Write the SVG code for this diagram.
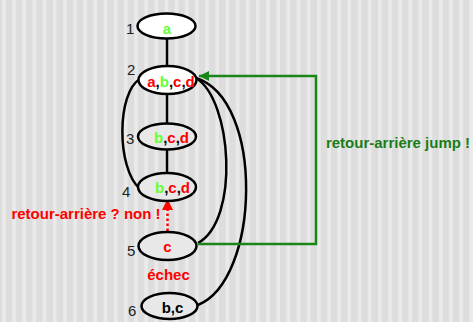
<svg xmlns="http://www.w3.org/2000/svg" width="473" height="322" viewBox="0 0 473 322">
  <defs>
    <pattern id="stripes" patternUnits="userSpaceOnUse" x="5.7" y="0" width="10.16" height="322">
      <rect x="0" y="0" width="10.16" height="322" fill="#eaeaea"/>
      <rect x="0" y="0" width="6.5" height="322" fill="#dddddd"/>
    </pattern>
    <marker id="arrow-green" viewBox="0 0 10 10" refX="10" refY="5" markerWidth="4" markerHeight="4" orient="auto" markerUnits="strokeWidth">
      <path d="M0,0 L10,5 L0,10 z" fill="#1a861a"/>
    </marker>
    <marker id="arrow-red" viewBox="0 0 10 10" refX="10" refY="5" markerWidth="4.5" markerHeight="4.5" orient="auto" markerUnits="strokeWidth">
      <path d="M0,0 L10,5 L0,10 z" fill="#ff0000"/>
    </marker>
  </defs>
  <style>
    .node { stroke: #000; stroke-width: 2.5; }
    .white { fill: #ffffff; }
    .grey { fill: #e8e8e8; }
    .edge { fill: none; stroke: #000; stroke-width: 2.5; }
    .lbl { font-family: "Liberation Sans", Arial, sans-serif; font-weight: bold; font-size: 15px; text-anchor: middle; }
    .num { font-family: "Liberation Sans", Arial, sans-serif; font-size: 15px; fill: #222; }
    .r { fill: #ff0000; }
    .g { fill: #66ff33; }
    .k { fill: #000000; }
    .dg { fill: #1a7d1a; }
  </style>

  <rect x="0" y="0" width="473" height="322" fill="url(#stripes)"/>

  <!-- connectors -->
  <g id="connectors">
    <line class="edge" x1="167" y1="38" x2="167" y2="66"/>
    <line class="edge" x1="167" y1="94" x2="167" y2="124"/>
    <line class="edge" x1="167" y1="150" x2="167" y2="173"/>
    <path class="edge" d="M140,79 C117,92 116,168 140,189"/>
    <path class="edge" d="M196,78 C232,100 240,220 198,243"/>
    <path class="edge" d="M196,78 C265,100 260,280 198,305"/>
    <polyline fill="none" stroke="#1a861a" stroke-width="2.5" points="198,244 316,244 316,76 199,76" marker-end="url(#arrow-green)"/>
    <line x1="167.5" y1="231" x2="167.5" y2="199" stroke="#ff0000" stroke-width="2.5" stroke-dasharray="2.5 2.5" marker-end="url(#arrow-red)"/>
  </g>

  <g id="node1">
    <ellipse class="node white" cx="166.5" cy="26" rx="29" ry="12.5"/>
    <text class="lbl g" x="167" y="33.5">a</text>
    <text class="num" x="126" y="34">1</text>
  </g>
  <g id="node2">
    <ellipse class="node white" cx="167.5" cy="80" rx="29" ry="14"/>
    <text class="lbl" x="171" y="86.5"><tspan class="r">a</tspan><tspan class="k">,</tspan><tspan class="g">b</tspan><tspan class="k">,</tspan><tspan class="r">c</tspan><tspan class="k">,</tspan><tspan class="r">d</tspan></text>
    <text class="num" x="127" y="75">2</text>
  </g>
  <g id="node3">
    <ellipse class="node grey" cx="167" cy="136.5" rx="29" ry="13"/>
    <text class="lbl" x="171.5" y="143"><tspan class="g">b</tspan><tspan class="k">,</tspan><tspan class="r">c</tspan><tspan class="k">,</tspan><tspan class="r">d</tspan></text>
    <text class="num" x="126" y="143.5">3</text>
  </g>
  <g id="node4">
    <ellipse class="node grey" cx="167" cy="187" rx="29" ry="14"/>
    <text class="lbl" x="172.5" y="192.5"><tspan class="g">b</tspan><tspan class="k">,</tspan><tspan class="r">c</tspan><tspan class="k">,</tspan><tspan class="r">d</tspan></text>
    <text class="num" x="122" y="197">4</text>
  </g>
  <g id="node5">
    <ellipse class="node grey" cx="167.5" cy="246" rx="29" ry="14"/>
    <text class="lbl r" x="167.5" y="252">c</text>
    <text class="num" x="127" y="256">5</text>
  </g>
  <g id="node6">
    <ellipse class="node grey" cx="169.5" cy="306" rx="28" ry="13"/>
    <text class="lbl k" x="172.5" y="313">b,c</text>
    <text class="num" x="128" y="315.5">6</text>
  </g>

  <text class="lbl r" x="86" y="219">retour-arrière ? non !</text>
  <text class="lbl r" x="168.5" y="280">échec</text>
  <text class="lbl dg" x="398" y="147.5">retour-arrière jump !</text>
</svg>
